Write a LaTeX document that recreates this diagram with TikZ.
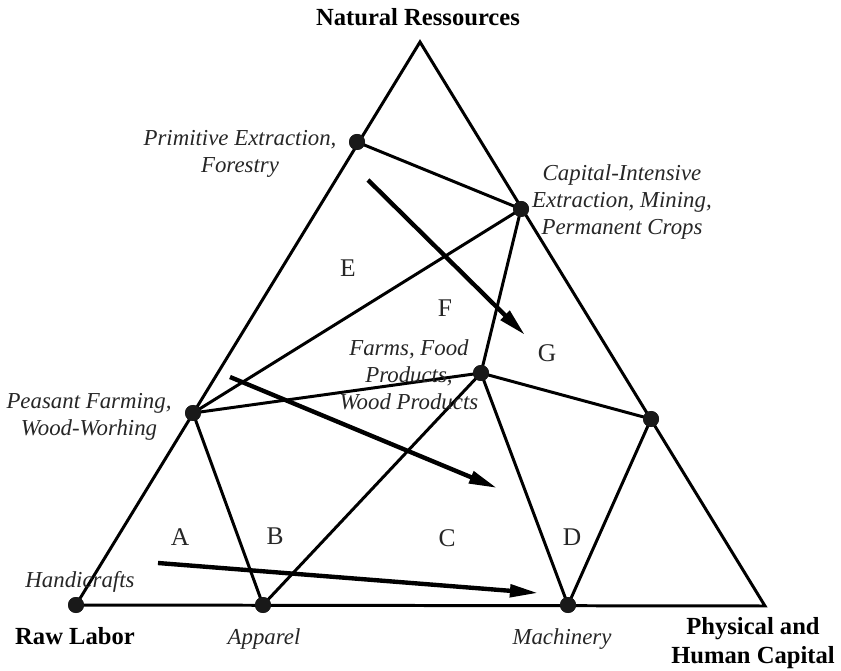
\documentclass[tikz,border=0pt]{standalone}
\usepackage{fontspec}
\setmainfont{Liberation Serif}
\usetikzlibrary{arrows.meta}
\begin{document}
\begin{tikzpicture}[x=0.02cm,y=-0.02cm,
  edge/.style={line width=1.7pt,line join=miter},
  trend/.style={line width=2.5pt,-{Triangle[length=16pt,width=7pt]}},
  dot/.style={circle,fill=black!90,inner sep=0pt,minimum size=0.32cm},
  lab/.style={font=\itshape\fontsize{13}{15.5}\selectfont,text=black!85,align=center,inner sep=0pt},
  corner/.style={font=\bfseries\fontsize{14}{16.5}\selectfont,align=center,inner sep=0pt},
  region/.style={font=\fontsize{14.5}{16}\selectfont,text=black!85,inner sep=0pt}]
\useasboundingbox (0,0) rectangle (841,671);

% corners of the triangle
\coordinate (top) at (420,42);
\coordinate (rgt) at (765,606);

% industry points
\node[dot] (hand) at (76,605) {};
\node[dot] (app) at (263,605) {};
\node[dot] (mach) at (568,605) {};
\node[dot] (peas) at (193,413) {};
\node[dot] (farm) at (481,373) {};
\node[dot] (cap) at (521,209) {};
\node[dot] (prim) at (357,142) {};
\node[dot] (rdot) at (651,419) {};

% outer triangle
\draw[edge] (hand.center) -- (top) -- (rgt) -- cycle;

% frontier lines
\draw[edge] (prim.center) -- (cap.center);
\draw[edge] (cap.center) -- (peas.center);
\draw[edge] (cap.center) -- (farm.center);
\draw[edge] (peas.center) -- (farm.center);
\draw[edge] (farm.center) -- (rdot.center);
\draw[edge] (peas.center) -- (app.center);
\draw[edge] (farm.center) -- (app.center);
\draw[edge] (farm.center) -- (mach.center);
\draw[edge] (rdot.center) -- (mach.center);

% development paths
\coordinate (a1s) at (368,180); \coordinate (a1e) at (525,335);
\coordinate (a2s) at (230,377); \coordinate (a2e) at (497,488);
\coordinate (a3s) at (158,563); \coordinate (a3e) at (538,593);
\draw[trend] (a1s) -- (a1e);
\draw[trend] (a2s) -- (a2e);
\draw[trend] (a3s) -- (a3e);

% redraw dots on top
\foreach \n in {hand,app,mach,peas,farm,cap,prim,rdot}
  \fill[black!90] (\n) circle (0.16cm);

% corner labels
\node[corner] (nr) at (418,17) {Natural Ressources};
\node[corner] (rl) at (75,636) {Raw Labor};
\node[corner] (phc) at (753,643) {Physical and\\Human Capital};

% industry labels
\node[lab] (lprim) at (240,154) {Primitive Extraction,\\Forestry};
\node[lab] (lcap) at (622,202) {Capital-Intensive\\Extraction, Mining,\\Permanent Crops};
\node[lab] (lfarm) at (409,375) {Farms, Food\\Products,\\Wood Products};
\node[lab] (lpeas) at (89,417) {Peasant Farming,\\Wood-Worhing};
\node[lab] (lhand) at (80,582) {Handicrafts};
\node[lab] (lapp) at (264,639) {Apparel};
\node[lab] (lmach) at (562,639) {Machinery};

% region letters
\node[region] (rA) at (180,537) {A};
\node[region] (rB) at (275,536) {B};
\node[region] (rC) at (447,538) {C};
\node[region] (rD) at (572,537) {D};
\node[region] (rE) at (348,268) {E};
\node[region] (rF) at (445,308) {F};
\node[region] (rG) at (547,353) {G};
\end{tikzpicture}
\end{document}
